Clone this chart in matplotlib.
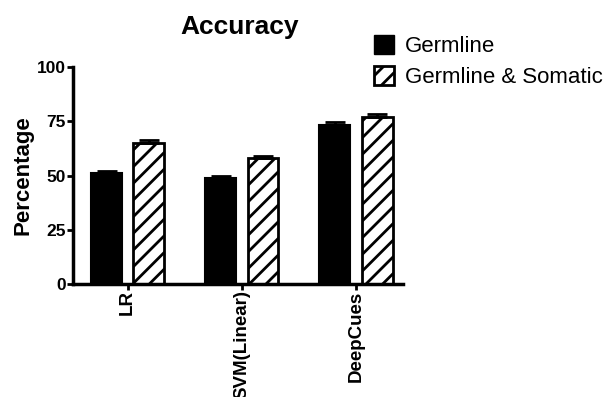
import matplotlib
matplotlib.use('Agg')

import matplotlib.pyplot as plt
import numpy as np
from matplotlib.patches import Patch

plt.rcParams['font.family'] = ['Liberation Sans', 'DejaVu Sans']
plt.rcParams['hatch.linewidth'] = 2.0

models = ['LR', 'SVM(Linear)', 'DeepCues']
germline = [51.0, 49.0, 73.5]
germline_err = [1.2, 1.0, 1.2]
somatic = [65.0, 58.0, 76.8]
somatic_err = [1.2, 0.9, 1.5]

fig = plt.figure(figsize=(6.03, 3.97), dpi=100)
ax = fig.add_axes([0.121, 0.2846, 0.547, 0.5464])

x = np.arange(len(models))
w = 0.27
off = 0.185

ax.bar(x - off, germline, w, color='black', edgecolor='black', linewidth=1.5,
       yerr=[np.zeros(3), germline_err], capsize=7,
       error_kw=dict(elinewidth=2, capthick=2, ecolor='black'))
ax.bar(x + off, somatic, w, color='white', edgecolor='black', linewidth=2,
       hatch='//', yerr=[np.zeros(3), somatic_err], capsize=7,
       error_kw=dict(elinewidth=2, capthick=2, ecolor='black'))

ax.set_xlim(-0.48, 2.41)
ax.set_ylim(0, 100)
ax.set_yticks([0, 25, 50, 75, 100])
ax.set_xticks(x)
ax.set_xticklabels(models, rotation=90, fontsize=13.5, fontweight='bold')
for t in ax.get_yticklabels():
    t.set_fontsize(12.5)
    t.set_fontweight('bold')

for s in ['top', 'right']:
    ax.spines[s].set_visible(False)
for s in ['left', 'bottom']:
    ax.spines[s].set_linewidth(2.5)
ax.tick_params(axis='both', width=2, length=4, pad=1)
ax.tick_params(axis='x', pad=0.5)

ax.set_ylabel('Percentage', fontsize=16, fontweight='bold')
ax.yaxis.set_label_coords(-0.121, 0.5)

fig.text(0.398, 1 - 27 / 397, 'Accuracy', fontsize=19, fontweight='bold',
         ha='center', va='center')

handles = [Patch(facecolor='black', edgecolor='black'),
           Patch(facecolor='white', edgecolor='black', linewidth=2, hatch='//')]
fig.legend(handles, ['Germline', 'Germline & Somatic'], loc='upper left',
           bbox_to_anchor=(0.605, 0.935), frameon=False, fontsize=16,
           handlelength=0.9, handleheight=0.95, handletextpad=0.5,
           labelspacing=0.4, borderaxespad=0)

fig.savefig('out.png', dpi=100)
